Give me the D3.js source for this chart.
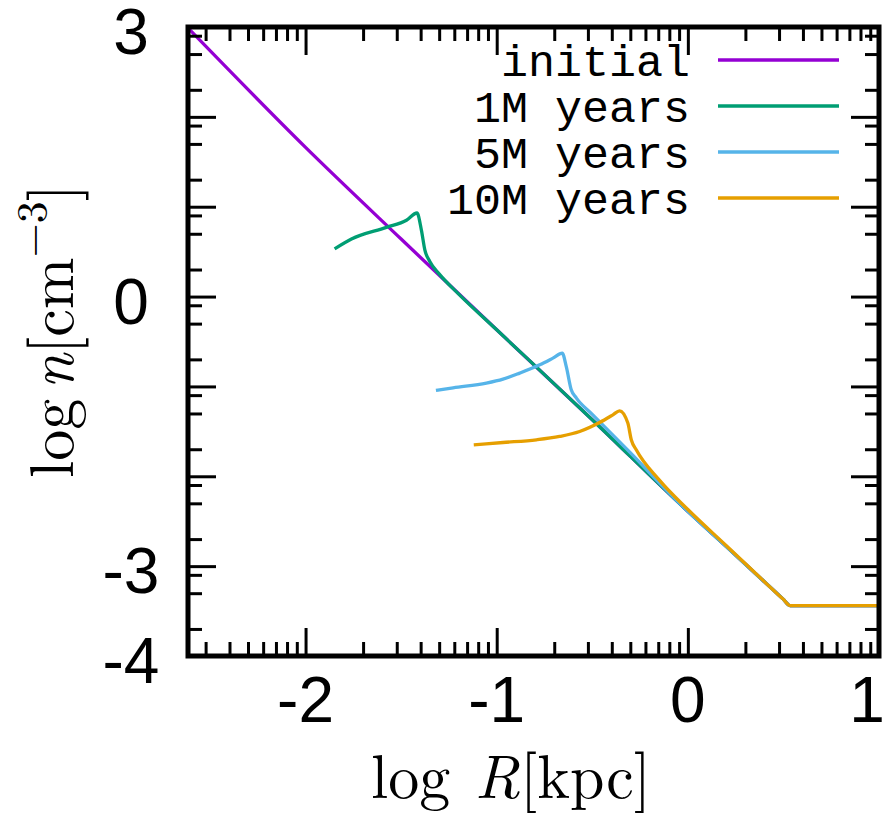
<!DOCTYPE html>
<html>
<head>
<meta charset="utf-8">
<script src="https://cdn.jsdelivr.net/npm/d3@7"></script>
<style>
  body { margin: 0; background: #fff; }
  svg { display: block; }
</style>
</head>
<body>
<svg id="chart" width="883" height="813"></svg>
<script>
// values: x = log R [kpc], y = log n [cm^-3]
const initialR = [-2.62, -2.0, -1.5, -1.0, -0.5, 0.0, 0.2, 0.5, 0.536, 1.0];
const initialN = [3.0, 1.66, 0.64, -0.37, -1.37, -2.39, -2.78, -3.37, -3.44, -3.44];

const oneMyrR = [-1.848, -1.76, -1.577, -1.472, -1.417, -1.394, -1.376, -1.35, -1.3, -1.2, -1.0, -0.5, 0.0, 0.2, 0.5, 0.536, 1.0];
const oneMyrN = [0.53, 0.64, 0.77, 0.85, 0.93, 0.74, 0.52, 0.39, 0.25, 0.03, -0.37, -1.37, -2.39, -2.78, -3.37, -3.44, -3.44];

const fiveMyrR = [-1.318, -1.228, -1.054, -0.967, -0.88, -0.775, -0.706, -0.657, -0.636, -0.61, -0.583, -0.5, -0.3, -0.1, 0.0, 0.2, 0.5, 0.536, 1.0];
const fiveMyrN = [-1.045, -1.015, -0.963, -0.919, -0.852, -0.76, -0.685, -0.63, -0.779, -1.038, -1.13, -1.31, -1.74, -2.18, -2.39, -2.78, -3.37, -3.44, -3.44];

const tenMyrR = [-1.12, -0.967, -0.792, -0.671, -0.566, -0.462, -0.392, -0.357, -0.314, -0.296, -0.27, -0.15, 0.0, 0.2, 0.5, 0.536, 1.0];
const tenMyrN = [-1.65, -1.624, -1.594, -1.557, -1.502, -1.402, -1.316, -1.271, -1.408, -1.594, -1.705, -2.04, -2.37, -2.77, -3.37, -3.44, -3.44];

const seriesNames = ['initial', '1M years', '5M years', '10M years'];
const seriesColors = ['#9400d3', '#009e73', '#56b4e9', '#e69f00'];

const xMajorTicks = [-2, -1, 0, 1];
const xTickLabels = ['-2', '-1', '0', '1'];
const yMajorTicks = [-4, -3, -2, -1, 0, 1, 2, 3];
const yLabelTicks = [3, 0, -3, -4];
const yTickLabels = ['3', '0', '-3', '-4'];

const W = 883, H = 813;
const margin = {top: 27, right: 4, bottom: 157, left: 188};
const plotW = W - margin.left - margin.right,
      plotH = H - margin.top - margin.bottom;

const x = d3.scaleLinear().domain([-2.615, 1.0]).range([margin.left, margin.left + plotW]);
const y = d3.scaleLinear().domain([-4, 3]).range([margin.top + plotH, margin.top]);

// log-style minor ticks as in the original axes
let xMinorTicks = [];
d3.range(-3, 1).forEach(n => {
  d3.range(2, 10).forEach(k => {
    let v = n + Math.log10(k);
    if (v > x.domain()[0] && v < x.domain()[1]) xMinorTicks.push(v);
  });
});
let yMinorTicks = [];
d3.range(-4, 3).forEach(n => {
  [2, 5, 8].forEach(k => yMinorTicks.push(n + Math.log10(k)));
});

const svg = d3.select('#chart');

svg.append('rect').attr('width', W).attr('height', H).attr('fill', '#fff');

svg.append('clipPath').attr('id', 'plot-clip')
  .append('rect')
    .attr('x', margin.left).attr('y', margin.top)
    .attr('width', plotW).attr('height', plotH);

const series = [
  {name: seriesNames[0], r: initialR, n: initialN},
  {name: seriesNames[1], r: oneMyrR, n: oneMyrN},
  {name: seriesNames[2], r: fiveMyrR, n: fiveMyrN},
  {name: seriesNames[3], r: tenMyrR, n: tenMyrN}
];

const line = d3.line()
  .x(d => x(d[0]))
  .y(d => y(d[1]))
  .curve(d3.curveMonotoneX);

svg.append('g')
  .attr('clip-path', 'url(#plot-clip)')
  .selectAll('path')
  .data(series)
  .join('path')
    .attr('fill', 'none')
    .attr('stroke', (d, i) => seriesColors[i])
    .attr('stroke-width', 3.3)
    .attr('stroke-linejoin', 'round')
    .attr('d', d => line(d.r.map((r, i) => [r, d.n[i]])));

// ticks on all four sides, pointing inwards
const majorLen = 28, minorLen = 14;
function drawTicks(axisFn, scale, values, len, transform) {
  let g = svg.append('g')
    .attr('transform', transform)
    .call(axisFn(scale).tickValues(values).tickSize(-len).tickFormat(''));
  g.select('.domain').remove();
  g.selectAll('line').attr('stroke', '#000').attr('stroke-width', 3);
}
const bottomY = margin.top + plotH, rightX = margin.left + plotW;
drawTicks(d3.axisBottom, x, xMajorTicks, majorLen, `translate(0,${bottomY})`);
drawTicks(d3.axisBottom, x, xMinorTicks, minorLen, `translate(0,${bottomY})`);
drawTicks(d3.axisTop, x, xMajorTicks, majorLen, `translate(0,${margin.top})`);
drawTicks(d3.axisTop, x, xMinorTicks, minorLen, `translate(0,${margin.top})`);
drawTicks(d3.axisLeft, y, yMajorTicks, majorLen, `translate(${margin.left},0)`);
drawTicks(d3.axisLeft, y, yMinorTicks, minorLen, `translate(${margin.left},0)`);
drawTicks(d3.axisRight, y, yMajorTicks, majorLen, `translate(${rightX},0)`);
drawTicks(d3.axisRight, y, yMinorTicks, minorLen, `translate(${rightX},0)`);

// frame
svg.append('rect')
  .attr('x', margin.left).attr('y', margin.top)
  .attr('width', plotW).attr('height', plotH)
  .attr('fill', 'none')
  .attr('stroke', '#000')
  .attr('stroke-width', 5);

const labelFont = '"Liberation Sans", Helvetica, Arial, sans-serif';

svg.append('g').selectAll('text')
  .data(xMajorTicks)
  .join('text')
    .attr('x', d => Math.min(x(d), W - 16))
    .attr('y', bottomY + 66)
    .attr('text-anchor', 'middle')
    .attr('font-family', labelFont)
    .attr('font-size', 64)
    .text((d, i) => xTickLabels[i]);

svg.append('g').selectAll('text')
  .data(yLabelTicks)
  .join('text')
    .attr('x', 131)
    .attr('y', d => y(d) + 27)
    .attr('text-anchor', 'middle')
    .attr('font-family', labelFont)
    .attr('font-size', 64)
    .text((d, i) => yTickLabels[i]);

// axis titles
const titleFont = '"Latin Modern Roman", "CMU Serif", "Liberation Serif", "DejaVu Serif", serif';

let xTitle = svg.append('text')
  .attr('x', 511)
  .attr('y', 798)
  .attr('text-anchor', 'middle')
  .attr('font-family', titleFont)
  .attr('font-size', 62);
xTitle.append('tspan').text('log ');
xTitle.append('tspan').attr('dx', 4).attr('font-style', 'italic').text('R');
xTitle.append('tspan').text('[kpc]');

let yTitle = svg.append('text')
  .attr('transform', 'translate(73,331) rotate(-90)')
  .attr('text-anchor', 'middle')
  .attr('font-family', titleFont)
  .attr('font-size', 62);
yTitle.append('tspan').text('log');
yTitle.append('tspan').attr('dx', 10).attr('font-style', 'italic').text('n');
yTitle.append('tspan').text('[cm');
yTitle.append('tspan').attr('dy', -26).attr('font-size', 44).text('\u22123');
yTitle.append('tspan').attr('dy', 26).text(']');

// legend
const legend = svg.append('g').selectAll('g')
  .data(series)
  .join('g')
    .attr('transform', (d, i) => `translate(0,${60 + i * 46})`);

legend.append('text')
  .attr('x', 690)
  .attr('y', 16)
  .attr('text-anchor', 'end')
  .attr('font-family', '"Courier New", Courier, "Liberation Mono", monospace')
  .attr('font-size', 45)
  .text(d => d.name);

legend.append('line')
  .attr('x1', 718).attr('x2', 839)
  .attr('stroke', (d, i) => seriesColors[i])
  .attr('stroke-width', 3.3);
</script>
</body>
</html>
